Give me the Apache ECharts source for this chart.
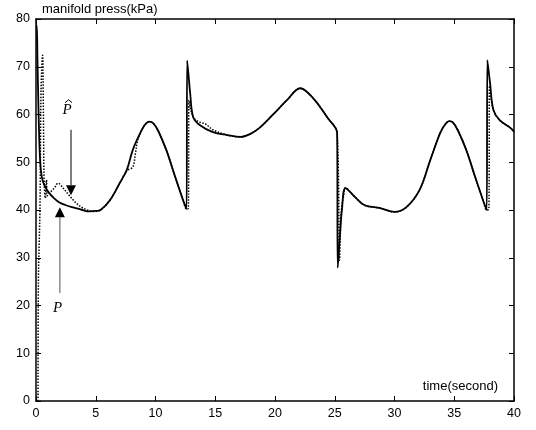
<!DOCTYPE html>
<html>
<head>
<meta charset="utf-8">
<script src="https://cdn.jsdelivr.net/npm/echarts@6/dist/echarts.min.js"></script>
<style>html,body{margin:0;padding:0;background:#fff}#c{width:536px;height:430px}</style>
</head>
<body>
<div id="c"></div>
<script>
// Measured manifold pressure P (solid)
var pTime = [0,0.06,0.12,0.2,0.33,0.48,0.7,1.03,1.5,2,2.5,3,3.5,4,4.5,5,5.4,6.2,7.0,7.6,8.1,8.7,9.1,9.48,9.8,10.2,10.9,11.6,12.3,12.6,12.65,12.75,12.9,13.15,13.7,14.8,16,17.1,17.9,18.7,19.8,21,22.1,23.2,24.4,25.2,25.25,25.45,25.6,25.9,26.7,27.5,28.8,30,31,32.1,33,33.8,34.2,34.6,34.9,35.3,36,36.7,37.4,37.72,37.77,38,38.27,38.8,39.7,40];
var pValue = [78.7,78.7,72,62,51,47,45.2,43.8,42.5,41.5,41,40.6,40.3,39.9,39.7,39.8,40,42.1,45.6,48.4,52.6,56,57.8,58.5,58.2,56.7,52.6,47.3,42.1,40.2,71.3,68.7,64.5,59.5,57.8,56.3,55.7,55.3,55.9,57.2,59.9,63,65.5,63.4,59.3,56.1,27.9,35.2,40,44.6,42.7,41,40.4,39.6,40.6,44.2,50.5,56,57.8,58.6,58.3,56.7,52.6,47.3,42.1,40,71.4,66.5,61,58.8,57.2,56.4];
// Estimated pressure P-hat (dotted)
var pHatTime = [0.17,0.2,0.33,0.42,0.55,0.62,0.68,0.78,0.88,0.95,1.1,1.5,1.85,2.3,2.8,3.3,3.8,4.3,4.8,5.4,6.2,7.0,7.6,8.1,8.3,8.5,8.8,9.1,9.48,9.8,10.2,10.9,11.6,12.3,12.6,12.75,12.8,13.0,13.3,13.7,14.2,14.8,16,17.1,17.9,18.7,19.8,21,22.1,23.2,24.4,25.2,25.4,25.5,25.6,25.75,25.9,26.7,27.5,28.8,30,31,32.1,33,33.8,34.2,34.6,34.9,35.3,36,36.7,37.4,37.72,37.9,37.95,38.27,38.8,39.7,40];
var pHatValue = [0,25,40,65,72.4,60,46,42.5,46.3,43,43.5,44.5,45.6,44.5,43,41.6,40.6,40,39.7,40,42.1,45.6,48.2,49,51.5,54.5,56.5,57.8,58.5,58.2,56.7,52.6,47.3,42.1,40.2,40.3,63,60.5,59,58.4,58,56.8,55.7,55.3,55.9,57.2,59.9,63,65.5,63.4,59.3,56.1,29.5,38,41,43,44.6,42.7,41,40.4,39.6,40.6,44.2,50.5,56,57.8,58.6,58.3,56.7,52.6,47.3,42.1,40,40.2,66,61,58.8,57.2,56.4];
var xTicks = {min: 0, max: 40, interval: 5};
var yTicks = {min: 0, max: 80, interval: 10};

function pairs(t, v) { return t.map(function (x, i) { return [x, v[i]]; }); }

var chart = echarts.init(document.getElementById('c'), null, {renderer: 'canvas'});
var font = 'Liberation Sans, Arial, sans-serif';
var lineCol = '#000';
function axis(pos, showLabel, r) {
  return {
    type: 'value', position: pos, min: r.min, max: r.max, interval: r.interval,
    axisLine: {show: true, onZero: false, lineStyle: {color: lineCol, width: 1.5}},
    axisTick: {show: true, inside: true, length: 5, lineStyle: {color: lineCol, width: 1}},
    axisLabel: {show: showLabel, color: '#000', fontSize: 12.5, fontFamily: font, margin: 6},
    splitLine: {show: false}
  };
}
chart.setOption({
  animation: false,
  backgroundColor: '#fff',
  grid: {left: 36, right: 22, top: 19, bottom: 29, containLabel: false},
  xAxis: [axis('bottom', true, xTicks), axis('top', false, xTicks)],
  yAxis: [axis('left', true, yTicks), axis('right', false, yTicks)],
  series: [
    {type: 'line', name: 'P', data: pairs(pTime, pValue), showSymbol: false, smooth: 0.35,
     lineStyle: {color: '#000', width: 1.8}, z: 3},
    {type: 'line', name: 'Phat', data: pairs(pHatTime, pHatValue), showSymbol: false, smooth: 0.35,
     lineStyle: {color: '#000', width: 1.5, type: 'dotted'}, z: 2}
  ]
});

function px(t, v) { return chart.convertToPixel({gridIndex: 0}, [t, v]); }
var a1s = px(2.93, 56.8), a1e = px(2.93, 43.1);
var a2s = px(2.0, 22.6), a2e = px(2.0, 40.6);
var lbl1 = px(2.6, 61.0), lbl2 = px(1.8, 19.5);
var hw = 5, hh = 10;
chart.setOption({
  graphic: [
    {type: 'text', left: 42, top: 3, style: {text: 'manifold press(kPa)', font: '13px ' + font, fill: '#000'}},
    {type: 'text', right: 38, top: 380, style: {text: 'time(second)', font: '13px ' + font, fill: '#000'}},
    {type: 'line', shape: {x1: a1s[0], y1: a1s[1], x2: a1e[0], y2: a1e[1] - hh}, style: {stroke: '#000', lineWidth: 1}},
    {type: 'polygon', shape: {points: [[a1e[0] - hw, a1e[1] - hh], [a1e[0] + hw, a1e[1] - hh], [a1e[0], a1e[1]]]}, style: {fill: '#000'}},
    {type: 'line', shape: {x1: a2s[0], y1: a2s[1], x2: a2e[0], y2: a2e[1] + hh}, style: {stroke: '#555', lineWidth: 1}},
    {type: 'polygon', shape: {points: [[a2e[0] - hw, a2e[1] + hh], [a2e[0] + hw, a2e[1] + hh], [a2e[0], a2e[1]]]}, style: {fill: '#000'}},
    {type: 'text', x: lbl1[0], y: lbl1[1], style: {text: 'P', font: 'italic 15px Liberation Serif, Times New Roman, serif', fill: '#000', align: 'center', verticalAlign: 'middle'}},
    {type: 'polyline', shape: {points: [[lbl1[0] - 2, lbl1[1] - 7], [lbl1[0] + 1.5, lbl1[1] - 10], [lbl1[0] + 5, lbl1[1] - 7]]}, style: {stroke: '#000', lineWidth: 1, fill: null}},
    {type: 'text', x: lbl2[0], y: lbl2[1], style: {text: 'P', font: 'italic 15px Liberation Serif, Times New Roman, serif', fill: '#000', align: 'center', verticalAlign: 'middle'}}
  ]
});
</script>
</body>
</html>
